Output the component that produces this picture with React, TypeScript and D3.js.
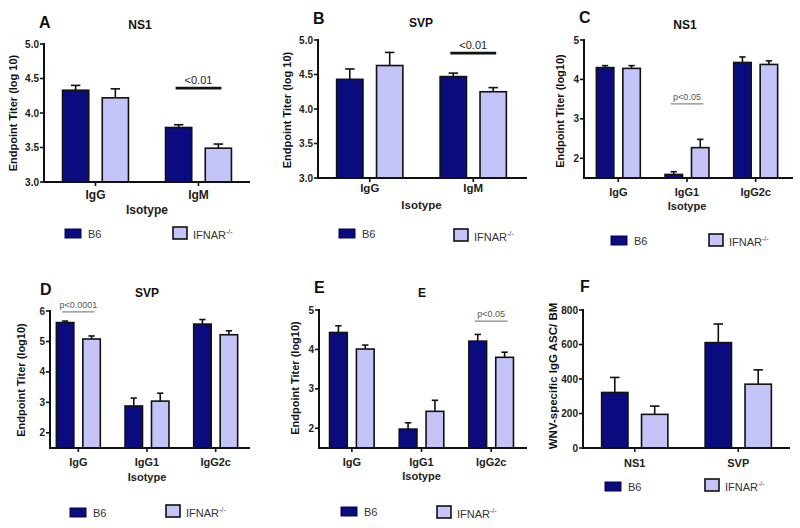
import * as d3 from "d3";

const B6_FILL = "#0b0b80";
const KO_FILL = "#c4c4f8";
const GROUPS = ["B6", "IFNAR"];
const FONT = "'Liberation Sans', Arial, sans-serif";

// A: NS1, IgG / IgM
const aCats = ["IgG", "IgM"];
const aB6 = [4.33, 3.79];
const aB6Err = [0.07, 0.04];
const aKo = [4.22, 3.49];
const aKoErr = [0.13, 0.06];
const aTicks = [3.0, 3.5, 4.0, 4.5, 5.0];

// B: SVP, IgG / IgM
const bCats = ["IgG", "IgM"];
const bB6 = [4.43, 4.47];
const bB6Err = [0.15, 0.05];
const bKo = [4.63, 4.25];
const bKoErr = [0.19, 0.06];
const bTicks = [3.0, 3.5, 4.0, 4.5, 5.0];

// C: NS1 subclasses
const cCats = ["IgG", "IgG1", "IgG2c"];
const cB6 = [4.3, 1.59, 4.43];
const cB6Err = [0.05, 0.07, 0.14];
const cKo = [4.28, 2.27, 4.38];
const cKoErr = [0.07, 0.21, 0.09];
const cTicks = [2, 3, 4, 5];

// D: SVP subclasses
const dCats = ["IgG", "IgG1", "IgG2c"];
const dB6 = [5.62, 2.88, 5.57];
const dB6Err = [0.05, 0.26, 0.15];
const dKo = [5.08, 3.04, 5.22];
const dKoErr = [0.1, 0.26, 0.13];
const dTicks = [2, 3, 4, 5, 6];

// E
const eCats = ["IgG", "IgG1", "IgG2c"];
const eB6 = [4.43, 1.98, 4.21];
const eB6Err = [0.17, 0.16, 0.17];
const eKo = [4.01, 2.43, 3.8];
const eKoErr = [0.1, 0.28, 0.13];
const eTicks = [2, 3, 4, 5];

// F: ASC per bone marrow
const fCats = ["NS1", "SVP"];
const fB6 = [322, 611];
const fB6Err = [87, 108];
const fKo = [195, 370];
const fKoErr = [48, 83];
const fTicks = [0, 200, 400, 600, 800];

type Sig = { text: string; cat: number; at: number; heavy: boolean };

type PanelDef = {
  letter: string;
  title: string;
  cats: string[];
  b6: number[];
  b6Err: number[];
  ko: number[];
  koErr: number[];
  ticks: number[];
  fmt: string;
  domain: [number, number];
  yTitle: string;
  xTitle: string;
  sig?: Sig;
  lay: any;
};

const panels: PanelDef[] = [
  {
    letter: "A", title: "NS1", cats: aCats, b6: aB6, b6Err: aB6Err, ko: aKo, koErr: aKoErr,
    ticks: aTicks, fmt: ".1f", domain: [3, 5], yTitle: "Endpoint Titer (log 10)", xTitle: "Isotype",
    sig: { text: "<0.01", cat: 1, at: 4.36, heavy: true },
    lay: { ax: 44, end: 250, top: 44, bot: 182, band: [44, 250], lx: 39, ly: 28, tx: 140, ty: 29,
      ytx: 13, yty: 113, yts: 11, fs: 12, tickY: 199, xtY: 214, leg: [65, 229, 173, 227] },
  },
  {
    letter: "B", title: "SVP", cats: bCats, b6: bB6, b6Err: bB6Err, ko: bKo, koErr: bKoErr,
    ticks: bTicks, fmt: ".1f", domain: [3, 5], yTitle: "Endpoint Titer (log 10)", xTitle: "Isotype",
    sig: { text: "<0.01", cat: 1, at: 4.81, heavy: true },
    lay: { ax: 318, end: 527, top: 40, bot: 178, band: [318, 525], lx: 313, ly: 24, tx: 421, ty: 27,
      ytx: 287, yty: 110, yts: 11, fs: 11.5, tickY: 192, xtY: 209, leg: [339, 229, 454, 229] },
  },
  {
    letter: "C", title: "NS1", cats: cCats, b6: cB6, b6Err: cB6Err, ko: cKo, koErr: cKoErr,
    ticks: cTicks, fmt: "d", domain: [1.5, 5], yTitle: "Endpoint Titer (log10)", xTitle: "Isotype",
    sig: { text: "p<0.05", cat: 1, at: 3.38, heavy: false },
    lay: { ax: 584, end: 793, top: 40, bot: 178, band: [584, 790], lx: 579, ly: 23, tx: 685, ty: 29,
      ytx: 560, yty: 111, yts: 11, fs: 11, tickY: 196, xtY: 210, leg: [611, 236, 709, 234] },
  },
  {
    letter: "D", title: "SVP", cats: dCats, b6: dB6, b6Err: dB6Err, ko: dKo, koErr: dKoErr,
    ticks: dTicks, fmt: "d", domain: [1.5, 6], yTitle: "Endpoint Titer (log10)", xTitle: "Isotype",
    sig: { text: "p<0.0001", cat: 0, at: 5.97, heavy: false },
    lay: { ax: 50, end: 250, top: 311, bot: 448, band: [44, 250], lx: 40, ly: 295, tx: 147, ty: 297,
      ytx: 21, yty: 380, yts: 11, fs: 11, tickY: 466, xtY: 481, leg: [70, 508, 166, 505] },
  },
  {
    letter: "E", title: "E", cats: eCats, b6: eB6, b6Err: eB6Err, ko: eKo, koErr: eKoErr,
    ticks: eTicks, fmt: "d", domain: [1.5, 5], yTitle: "Endpoint Titer (log10)", xTitle: "Isotype",
    sig: { text: "p<0.05", cat: 2, at: 4.72, heavy: false },
    lay: { ax: 319, end: 527, top: 310, bot: 448, band: [317, 526], lx: 314, ly: 293, tx: 422, ty: 297,
      ytx: 295, yty: 378, yts: 11, fs: 11, tickY: 466, xtY: 480, leg: [341, 507, 437, 506] },
  },
  {
    letter: "F", title: "", cats: fCats, b6: fB6, b6Err: fB6Err, ko: fKo, koErr: fKoErr,
    ticks: fTicks, fmt: "d", domain: [0, 800], yTitle: "WNV-specific IgG ASC/ BM", xTitle: "",
    lay: { ax: 583, end: 790, top: 310, bot: 448, band: [583, 790], lx: 580, ly: 292, tx: 0, ty: 0,
      ytx: 553, yty: 376, yts: 11.5, fs: 11, tickY: 467, xtY: 0, leg: [605, 482, 705, 479] },
  },
];

function Legend({ leg }: { leg: number[] }) {
  const [bx, by, kx, ky] = leg;
  return (
    <g fontFamily={FONT} fontSize={11} fill="#333">
      <rect x={bx} y={by} width={16} height={9} fill={B6_FILL} stroke="#050550" strokeWidth={1} />
      <text x={bx + 23} y={by + 9}>B6</text>
      <rect x={kx} y={ky} width={14} height={12} fill={KO_FILL} stroke="#111" strokeWidth={1.6} />
      <text x={kx + 20} y={ky + 12}>
        IFNAR
        <tspan dy={-5} fontSize={7}>-/-</tspan>
      </text>
    </g>
  );
}

function Panel({ p }: { p: PanelDef }) {
  const L = p.lay;
  const x = d3.scaleBand<string>().domain(p.cats).range(L.band).paddingInner(0).paddingOuter(0);
  const groupW = x.bandwidth() * 0.64;
  const inner = d3.scaleBand<string>().domain(GROUPS).range([0, groupW]).paddingInner(0.34);
  const y = d3.scaleLinear().domain(p.domain).range([L.bot, L.top]);
  const fmt = d3.format(p.fmt);
  const bw = inner.bandwidth();
  const cap = bw * 0.36;
  const series = [
    { key: "B6", vals: p.b6, errs: p.b6Err, fill: B6_FILL },
    { key: "IFNAR", vals: p.ko, errs: p.koErr, fill: KO_FILL },
  ];
  const groupX = (c: string) => (x(c) ?? 0) + (x.bandwidth() - groupW) / 2;

  let sigEl = null;
  if (p.sig) {
    const c = p.cats[p.sig.cat];
    const x1 = groupX(c) + (inner("B6") ?? 0) + bw / 2 - 3;
    const x2 = groupX(c) + (inner("IFNAR") ?? 0) + bw / 2 + 3;
    const sy = y(p.sig.at);
    sigEl = (
      <g>
        <line x1={x1} x2={x2} y1={sy} y2={sy} stroke={p.sig.heavy ? "#111" : "#888"}
          strokeWidth={p.sig.heavy ? 2.6 : 1.2} />
        <text x={(x1 + x2) / 2} y={sy - 4} textAnchor="middle" fontFamily={FONT}
          fontSize={p.sig.heavy ? 11 : 9} fill={p.sig.heavy ? "#222" : "#555"}>
          {p.sig.text}
        </text>
      </g>
    );
  }

  return (
    <g>
      <text x={L.lx} y={L.ly} fontFamily={FONT} fontWeight="bold" fontSize={16} fill="#111">{p.letter}</text>
      {p.title && (
        <text x={L.tx} y={L.ty} textAnchor="middle" fontFamily={FONT} fontWeight="bold" fontSize={12} fill="#111">
          {p.title}
        </text>
      )}
      <text transform={`translate(${L.ytx},${L.yty}) rotate(-90)`} textAnchor="middle" dominantBaseline="central"
        fontFamily={FONT} fontWeight="bold" fontSize={L.yts} fill="#111">
        {p.yTitle}
      </text>

      {series.map((s) =>
        p.cats.map((c, i) => {
          const bx = groupX(c) + (inner(s.key) ?? 0);
          const top = y(s.vals[i]);
          const et = y(s.vals[i] + s.errs[i]);
          const cx = bx + bw / 2;
          return (
            <g key={s.key + c}>
              <line x1={cx} x2={cx} y1={top} y2={et} stroke="#111" strokeWidth={1.6} />
              <line x1={cx - cap / 2} x2={cx + cap / 2} y1={et} y2={et} stroke="#111" strokeWidth={1.6} />
              <rect x={bx} y={top} width={bw} height={L.bot - top} fill={s.fill} stroke="#111" strokeWidth={1.6} />
            </g>
          );
        })
      )}

      <line x1={L.ax} x2={L.ax} y1={L.top - 1} y2={L.bot} stroke="#111" strokeWidth={2} />
      <line x1={L.ax - 1} x2={L.end} y1={L.bot} y2={L.bot} stroke="#111" strokeWidth={2} />
      {p.ticks.map((t) => (
        <g key={t}>
          <line x1={L.ax - 4} x2={L.ax} y1={y(t)} y2={y(t)} stroke="#111" strokeWidth={1.6} />
          <text x={L.ax - 5} y={y(t)} textAnchor="end" dominantBaseline="central" fontFamily={FONT}
            fontWeight="bold" fontSize={10} fill="#222">
            {fmt(t)}
          </text>
        </g>
      ))}
      {p.cats.map((c) => {
        const cx = (x(c) ?? 0) + x.bandwidth() / 2;
        return (
          <g key={c}>
            <line x1={cx} x2={cx} y1={L.bot} y2={L.bot + 4} stroke="#111" strokeWidth={1.6} />
            <text x={cx} y={L.tickY} textAnchor="middle" fontFamily={FONT} fontWeight="bold" fontSize={L.fs} fill="#222">
              {c}
            </text>
          </g>
        );
      })}
      {p.xTitle && (
        <text x={(x(p.cats[Math.floor(p.cats.length / 2)]) ?? 0) + (p.cats.length % 2 ? x.bandwidth() / 2 : 0)}
          y={L.xtY} textAnchor="middle" fontFamily={FONT} fontWeight="bold" fontSize={L.fs} fill="#222">
          {p.xTitle}
        </text>
      )}
      {sigEl}
      <Legend leg={L.leg} />
    </g>
  );
}

export default function App() {
  return (
    <svg width={800} height={528} viewBox="0 0 800 528"
      style={{ position: "absolute", left: 0, top: 0, background: "#fff" }}>
      <rect width={800} height={528} fill="#fff" />
      {panels.map((p) => (
        <Panel key={p.letter} p={p} />
      ))}
    </svg>
  );
}
